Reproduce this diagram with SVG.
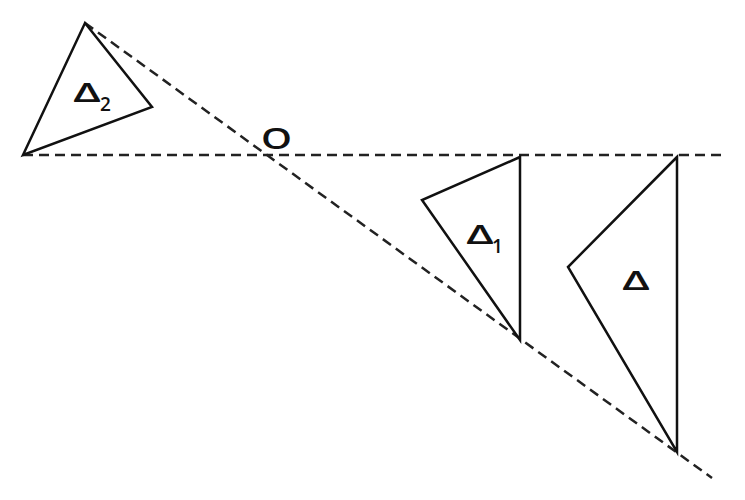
<svg xmlns="http://www.w3.org/2000/svg" width="745" height="500" viewBox="0 0 745 500">
<style>
.tri{fill:none;stroke:#111;stroke-width:2.5;stroke-linejoin:miter}
.dash{fill:none;stroke:#222;stroke-width:2.5;stroke-dasharray:10 6}
text{font-family:"Open Sans","Liberation Sans",sans-serif;fill:#111;font-weight:600}
.lbl{font-size:27px}
.sub{font-size:19px}
</style>
<rect width="745" height="500" fill="#fff"/>
<g id="connectors">
<line class="dash" x1="23" y1="155" x2="722" y2="155"/>
<line class="dash" x1="85" y1="23" x2="712" y2="478"/>
</g>
<g id="tri2">
<polygon class="tri" points="85,23 152,107 23,155"/>
<text class="lbl" x="73" y="102" textLength="28" lengthAdjust="spacingAndGlyphs">Δ</text><text class="sub" x="100" y="111">2</text>
</g>
<g id="tri1">
<polygon class="tri" points="520,157 422,200 520,340"/>
<text class="lbl" x="466" y="244" textLength="28" lengthAdjust="spacingAndGlyphs">Δ</text><text class="sub" x="492" y="253">1</text>
</g>
<g id="tri">
<polygon class="tri" points="677,157 568,267 677,452"/>
<text class="lbl" x="622" y="290" textLength="28" lengthAdjust="spacingAndGlyphs">Δ</text>
</g>
<g id="origin">
<text x="261" y="149" font-size="29" font-weight="500" textLength="31" lengthAdjust="spacingAndGlyphs">O</text>
</g>
</svg>
